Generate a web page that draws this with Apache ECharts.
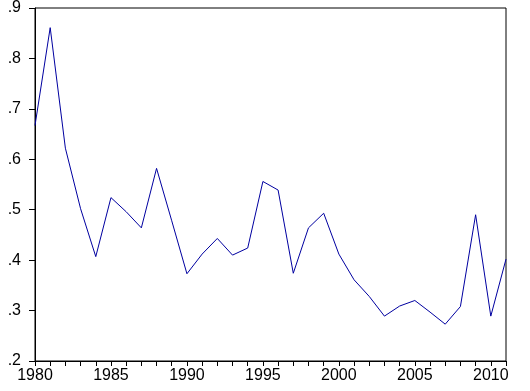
<!DOCTYPE html>
<html>
<head>
<meta charset="utf-8">
<script src="https://cdn.jsdelivr.net/npm/echarts@6/dist/echarts.min.js"></script>
<style>html,body{margin:0;padding:0;background:#fff;}#c{width:530px;height:391px;}</style>
</head>
<body>
<div id="c"></div>
<script>
var years = [1980,1981,1982,1983,1984,1985,1986,1987,1988,1989,1990,1991,1992,1993,1994,1995,1996,1997,1998,1999,2000,2001,2002,2003,2004,2005,2006,2007,2008,2009,2010,2011];
var values = [0.667,0.861,0.622,0.502,0.407,0.524,0.496,0.464,0.582,0.478,0.373,0.412,0.443,0.410,0.424,0.556,0.539,0.374,0.464,0.493,0.412,0.361,0.328,0.289,0.309,0.320,0.297,0.273,0.308,0.490,0.289,0.402];
var yTicks = [0.2,0.3,0.4,0.5,0.6,0.7,0.8,0.9];

var chart = echarts.init(document.getElementById('c'), null, {renderer:'canvas'});
var font = 'Liberation Sans, Arial, sans-serif';
chart.setOption({
  animation: false,
  backgroundColor: '#fff',
  grid: {left: 35, right: 24, top: 8, bottom: 30, show: true, borderColor: '#000', borderWidth: 1},
  xAxis: {
    type: 'value', min: 1980, max: 2011, interval: 1,
    axisLine: {show: true, lineStyle: {color: '#000', width: 1}},
    axisTick: {show: true, inside: false, length: 5, lineStyle: {color: '#000'}},
    splitLine: {show: false},
    axisLabel: {color: '#000', fontFamily: font, fontSize: 16, margin: 7,
      formatter: function(v){ return (v % 5 === 0) ? String(v) : ''; }}
  },
  yAxis: {
    type: 'value', min: 0.2, max: 0.9, interval: 0.1,
    axisLine: {show: true, lineStyle: {color: '#000', width: 1}},
    axisTick: {show: true, inside: false, length: 6, lineStyle: {color: '#000'}},
    splitLine: {show: false},
    axisLabel: {color: '#000', fontFamily: font, fontSize: 16, margin: 14,
      formatter: function(v){ return v.toFixed(1).replace(/^0/, ''); }}
  },
  series: [{
    type: 'line',
    data: years.map(function(y, i){ return [y, values[i]]; }),
    symbol: 'none',
    lineStyle: {color: '#0000a0', width: 1},
    clip: false
  }]
});
</script>
</body>
</html>
